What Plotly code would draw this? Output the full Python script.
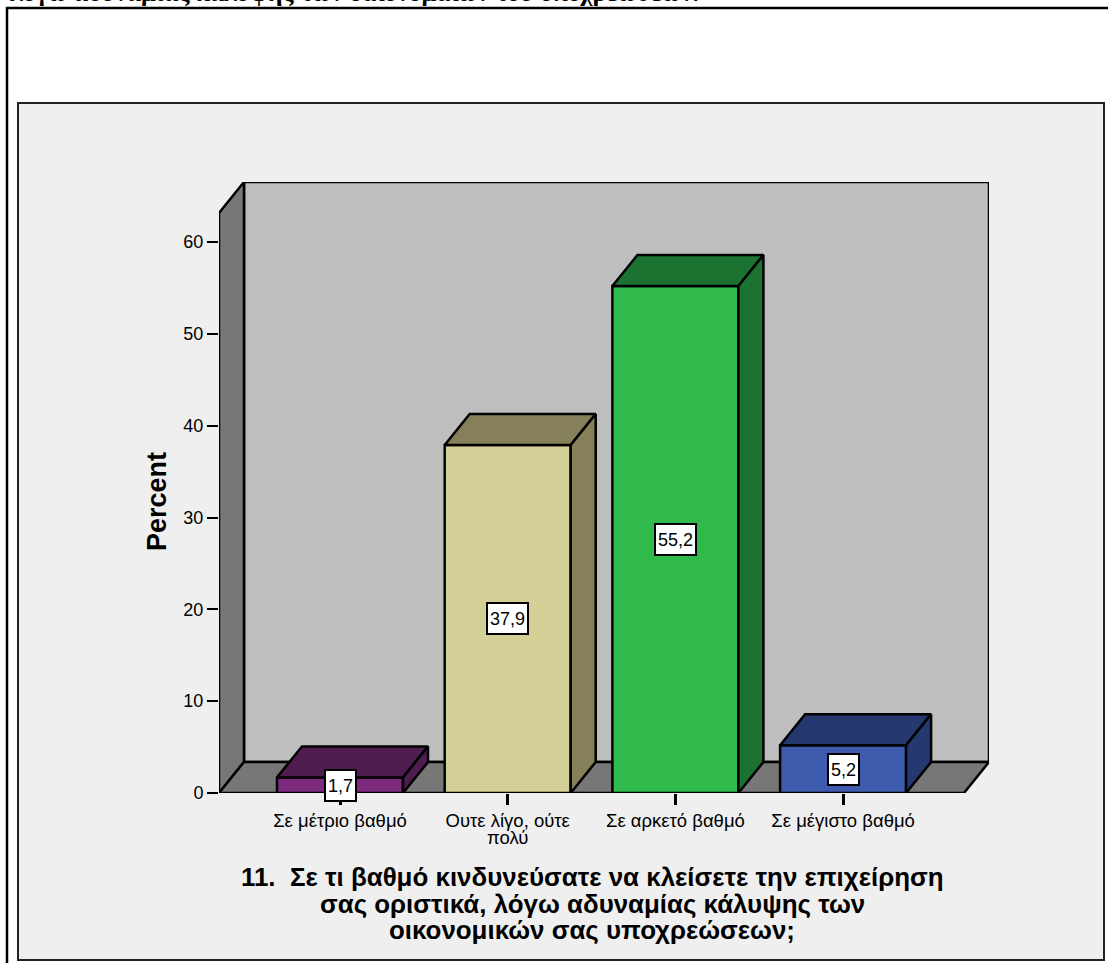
import plotly.graph_objects as go

# ---- data ----
categories = ["Σε μέτριο βαθμό", "Ουτε λίγο, ούτε", "Σε αρκετό βαθμό", "Σε μέγιστο βαθμό"]
category_second_line = "πολύ"
percent = [1.7, 37.9, 55.2, 5.2]
value_labels = ["1,7", "37,9", "55,2", "5,2"]
front_colors = ["#7E2A7E", "#D3CF96", "#30BA4B", "#3F5BAD"]
shade_colors = ["#4F1C4F", "#85805A", "#1C7230", "#263870"]
y_ticks = [0, 10, 20, 30, 40, 50, 60]
x_title_lines = [
    "11.  Σε τι βαθμό κινδυνεύσατε να κλείσετε την επιχείρηση",
    "σας οριστικά, λόγω αδυναμίας κάλυψης των",
    "οικονομικών σας υποχρεώσεων;",
]
top_text = "λόγω αδυναμίας κάλυψης των οικονομικών του υποχρεώσεων."

# ---- layout geometry ----
W, H = 1108, 963
L, R, T, B = 219, 989, 182, 793
PX_X = 167.7          # px per category
PX_Y = 551 / 60       # px per percent
BAR_W = 126 / PX_X
DX = 25 / PX_X        # depth along x, in category units
DY = 31 / PX_Y        # depth along y, in percent units
x_lo = -121 / PX_X
x_hi = x_lo + (R - L) / PX_X
y_hi = (B - T) / PX_Y
wall_top = y_hi - DY
x_front_hi = x_hi - DX
FONT = "Liberation Sans, Arial, sans-serif"
LW = 2.5


def px(x):
    return (x - L) / (R - L)


def py(y):
    return (B - y) / (B - T)


def poly(points):
    return "M" + " L".join(f"{a},{b}" for a, b in points) + " Z"


shapes = []
edge = dict(color="black", width=LW)
# white-page frame and grey panel
shapes.append(dict(type="path", xref="paper", yref="paper", layer="below",
                   path=poly([(px(7), py(H + 5)), (px(7), py(8)), (px(W + 5), py(8)), (px(W + 5), py(H + 5))]),
                   line=dict(color="black", width=2.5), fillcolor="white"))
shapes.append(dict(type="rect", xref="paper", yref="paper", layer="below",
                   x0=px(18), x1=px(1104), y0=py(960), y1=py(103),
                   line=dict(color="#222222", width=2), fillcolor="#EFEFEF"))
# walls of the 3D box
shapes.append(dict(type="path", xref="x", yref="y", layer="below",
                   path=poly([(x_lo + DX, DY), (x_lo + DX, y_hi), (x_hi, y_hi), (x_hi, DY)]),
                   line=edge, fillcolor="#BEBEBE"))
shapes.append(dict(type="path", xref="x", yref="y", layer="below",
                   path=poly([(x_lo, 0), (x_lo, wall_top), (x_lo + DX, y_hi), (x_lo + DX, DY)]),
                   line=edge, fillcolor="#777777"))
shapes.append(dict(type="path", xref="x", yref="y", layer="below",
                   path=poly([(x_lo, 0), (x_lo + DX, DY), (x_hi, DY), (x_front_hi, 0)]),
                   line=edge, fillcolor="#777777"))

xs = list(range(len(categories)))
fig = go.Figure()
fig.add_trace(go.Bar(x=xs, y=percent, width=BAR_W, cliponaxis=False,
                     marker=dict(color=front_colors, line=dict(color="black", width=LW)),
                     hoverinfo="skip", showlegend=False))

# top and side faces of each bar, derived from the value
for i, v in enumerate(percent):
    x0, x1 = i - BAR_W / 2, i + BAR_W / 2
    fig.add_trace(go.Scatter(x=[x0, x0 + DX, x1 + DX, x1, x0], y=[v, v + DY, v + DY, v, v],
                             mode="lines", fill="toself", fillcolor=shade_colors[i],
                             line=dict(color="black", width=LW), cliponaxis=False,
                             hoverinfo="skip", showlegend=False))
    fig.add_trace(go.Scatter(x=[x1, x1 + DX, x1 + DX, x1, x1], y=[0, DY, v + DY, v, 0],
                             mode="lines", fill="toself", fillcolor=shade_colors[i],
                             line=dict(color="black", width=LW), cliponaxis=False,
                             hoverinfo="skip", showlegend=False))

annotations = []
for i, v in enumerate(percent):
    annotations.append(dict(x=i, y=v / 2, xref="x", yref="y", text=value_labels[i], showarrow=False,
                            font=dict(family=FONT, size=18, color="black"), height=25,
                            bgcolor="white", bordercolor="black", borderwidth=2, borderpad=2))
annotations.append(dict(x=1, y=py(837), xref="x", yref="paper", text=category_second_line,
                        showarrow=False, xanchor="center", yanchor="middle",
                        font=dict(family=FONT, size=18.5, color="black")))
for line, yc in zip(x_title_lines, [877, 904, 930]):
    annotations.append(dict(x=px(592), y=py(yc), xref="paper", yref="paper", text=f"<b>{line}</b>",
                            showarrow=False, xanchor="center", yanchor="middle",
                            font=dict(family=FONT, size=25.9, color="black")))
annotations.append(dict(x=px(157), y=py(502), xref="paper", yref="paper", text="<b>Percent</b>",
                        textangle=-90, showarrow=False, xanchor="center", yanchor="middle",
                        font=dict(family=FONT, size=27, color="black")))
annotations.append(dict(x=px(8), y=py(-8), xref="paper", yref="paper", text=f"<b>{top_text}</b>",
                        showarrow=False, xanchor="left", yanchor="middle",
                        font=dict(family="Liberation Serif, serif", size=26, color="black")))

fig.update_layout(
    width=W, height=H, autosize=False,
    margin=dict(l=L, r=W - R, t=T, b=H - B, pad=0),
    paper_bgcolor="white", plot_bgcolor="rgba(0,0,0,0)",
    shapes=shapes, annotations=annotations, showlegend=False,
    xaxis=dict(range=[x_lo, x_hi], tickmode="array", tickvals=xs, ticktext=categories,
               ticks="outside", ticklen=11, tickwidth=2.5, tickcolor="black", tickangle=0,
               showgrid=False, zeroline=False, showline=False,
               tickfont=dict(family=FONT, size=18.5, color="black")),
    yaxis=dict(range=[0, y_hi], tickmode="array", tickvals=y_ticks,
               ticks="outside", ticklen=11, tickwidth=2, tickcolor="black",
               showgrid=False, zeroline=False, showline=False,
               tickfont=dict(family=FONT, size=18, color="black")),
)

fig.write_html("out.html", config={"displayModeBar": False},
               post_script="document.body.style.margin='0';document.documentElement.style.overflow='hidden';")
